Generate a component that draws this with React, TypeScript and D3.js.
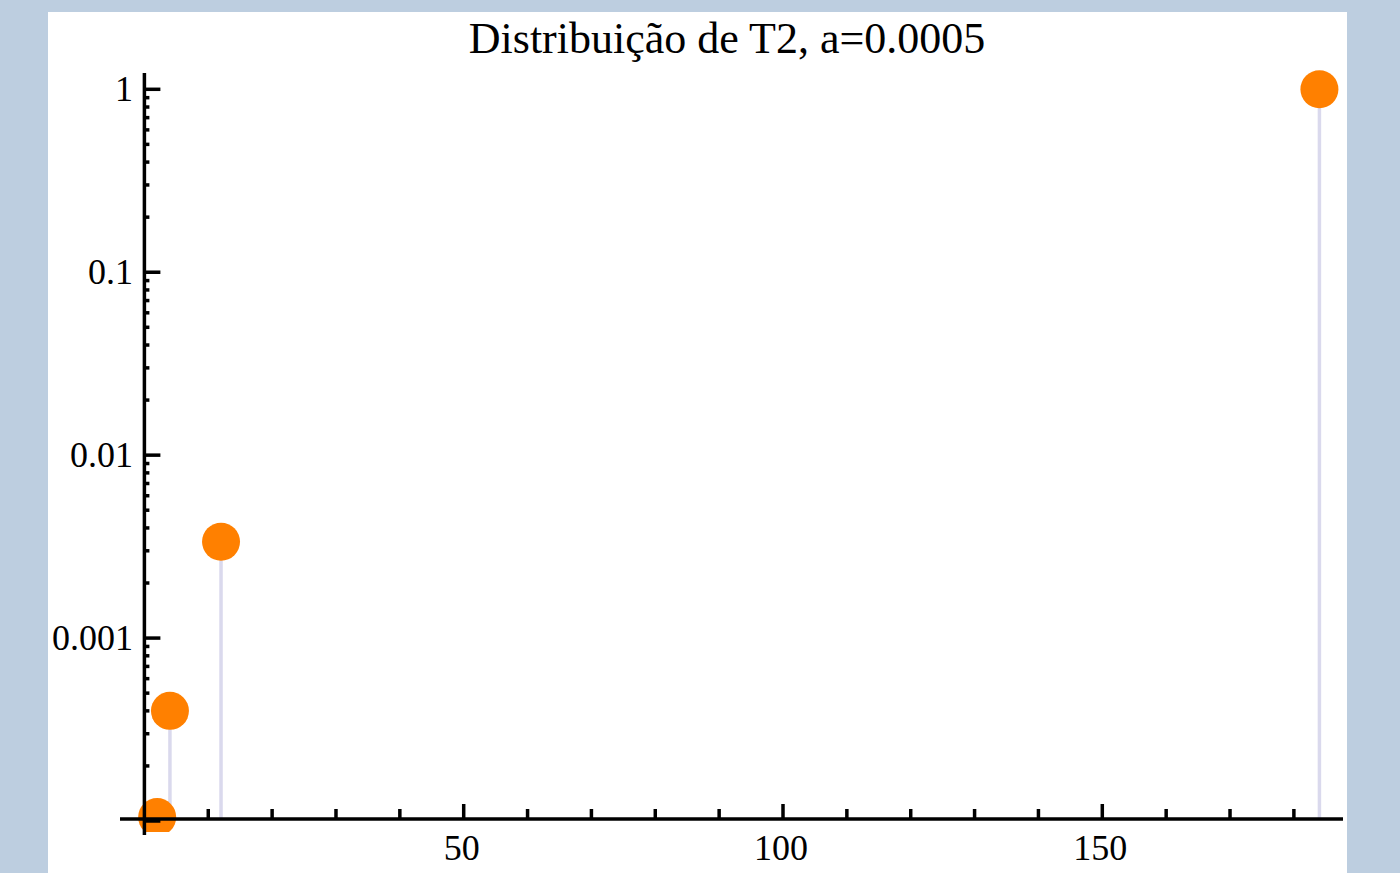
import * as d3 from "d3";
import { useEffect, useRef } from "react";

const W = 1400;
const H = 873;

const TITLE = "Distribuição de T2, a=0.0005";

// data
const xValues = [2, 4, 12, 184];
const yValues = [0.000105, 0.0004, 0.00336, 1];

const yTickValues = [1, 0.1, 0.01, 0.001];
const yTickLabels = ["1", "0.1", "0.01", "0.001"];
const xTickValues = [50, 100, 150];
const xTickLabels = ["50", "100", "150"];

const FONT = "'Liberation Serif', 'Times New Roman', serif";

export default function App() {
	const svgRef = useRef<SVGSVGElement>(null);

	useEffect(() => {
		const svg = svgRef.current;
		if (!svg) return;

		const selection = d3.select(svg);
		selection.selectAll("*").remove();

		// page background + white panel
		selection.append("rect").attr("width", W).attr("height", H).attr("fill", "#bdcee0");
		selection.append("rect").attr("x", 48).attr("y", 12).attr("width", 1299).attr("height", H - 12).attr("fill", "#ffffff");

		const x = d3.scaleLinear().domain([0, 150]).range([144.4, 1102.3]);
		const y = d3.scaleLog().domain([1e-4, 1]).range([821, 89.3]);

		const axisY = y(1e-4) - 2;
		const axisX = x(0);

		// title
		selection
			.append("text")
			.attr("x", 727)
			.attr("y", 53)
			.attr("text-anchor", "middle")
			.attr("font-family", FONT)
			.attr("font-size", 44)
			.attr("fill", "#000")
			.text(TITLE);

		selection
			.append("defs")
			.append("clipPath")
			.attr("id", "plot-clip")
			.append("rect")
			.attr("x", 48)
			.attr("y", 12)
			.attr("width", 1299)
			.attr("height", 832 - 12);

		const plot = selection.append("g").attr("clip-path", "url(#plot-clip)");

		// stems
		plot
			.selectAll("line.stem")
			.data(xValues)
			.join("line")
			.attr("class", "stem")
			.attr("x1", (d) => x(d))
			.attr("x2", (d) => x(d))
			.attr("y1", (_, i) => y(yValues[i]))
			.attr("y2", axisY)
			.attr("stroke", "#dad9ed")
			.attr("stroke-width", 3.5);

		// points
		plot
			.selectAll("circle")
			.data(xValues)
			.join("circle")
			.attr("cx", (d) => x(d))
			.attr("cy", (_, i) => y(yValues[i]))
			.attr("r", 19)
			.attr("fill", "#ff8000");

		// axis lines + ticks (drawn over the points)
		const axes = selection.append("g").attr("stroke", "#000").attr("stroke-width", 3.5);

		axes.append("line").attr("x1", axisX).attr("x2", axisX).attr("y1", 73).attr("y2", 835);
		axes.append("line").attr("x1", 120).attr("x2", 1343).attr("y1", axisY).attr("y2", axisY);

		const yMajor = [1, 0.1, 0.01, 0.001, 0.0001];
		yMajor.forEach((v) => {
			axes.append("line").attr("x1", axisX).attr("x2", axisX + 16).attr("y1", y(v)).attr("y2", y(v));
		});
		const yMinor: number[] = [];
		for (let e = -4; e < 0; e++) {
			for (let m = 2; m <= 9; m++) yMinor.push(m * Math.pow(10, e));
		}
		yMinor.forEach((v) => {
			axes.append("line").attr("x1", axisX).attr("x2", axisX + 5).attr("y1", y(v)).attr("y2", y(v));
		});

		// x ticks
		for (let v = 10; v <= 180; v += 10) {
			const len = v % 50 === 0 ? 15 : 10;
			axes.append("line").attr("x1", x(v)).attr("x2", x(v)).attr("y1", axisY).attr("y2", axisY - len);
		}

		// tick labels
		const labels = selection.append("g").attr("font-family", FONT).attr("font-size", 36).attr("fill", "#000");

		yTickValues.forEach((v, i) => {
			labels
				.append("text")
				.attr("x", 133)
				.attr("y", y(v) + 12)
				.attr("text-anchor", "end")
				.text(yTickLabels[i]);
		});

		xTickValues.forEach((v, i) => {
			labels
				.append("text")
				.attr("x", x(v) - 2)
				.attr("y", 860)
				.attr("text-anchor", "middle")
				.text(xTickLabels[i]);
		});
	}, []);

	return (
		<svg
			ref={svgRef}
			width={W}
			height={H}
			viewBox={`0 0 ${W} ${H}`}
			style={{ position: "absolute", left: 0, top: 0, display: "block" }}
		/>
	);
}
